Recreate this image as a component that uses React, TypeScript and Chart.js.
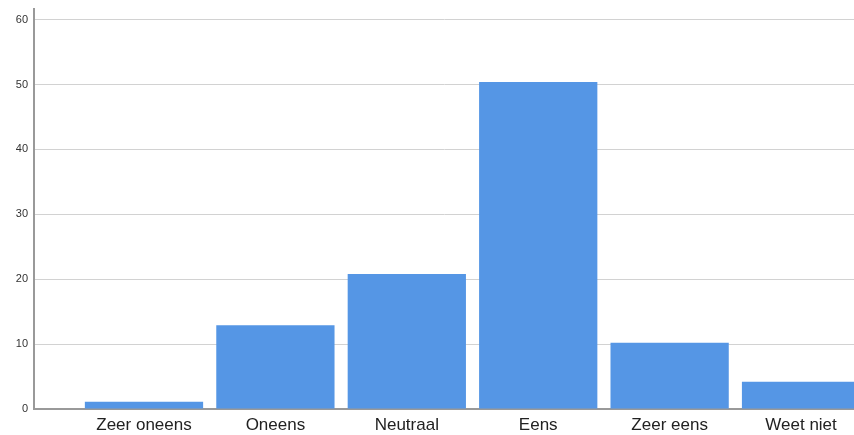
import React, { useEffect, useRef } from "react";
import { Chart, registerables } from "chart.js";

Chart.register(...registerables);

const categories = ["Zeer oneens", "Oneens", "Neutraal", "Eens", "Zeer eens", "Weet niet"];
const percentages = [1.1, 12.9, 20.8, 50.4, 10.2, 4.2];
const yTicks = [0, 10, 20, 30, 40, 50, 60];

export default function App() {
  const ref = useRef<HTMLCanvasElement | null>(null);

  useEffect(() => {
    if (!ref.current) return;
    const chart = new Chart(ref.current, {
      type: "bar",
      data: {
        datasets: [
          {
            data: percentages.map((v, i) => ({ x: i, y: v })),
            backgroundColor: "#5596e5",
            borderWidth: 0,
            barPercentage: 0.9,
            categoryPercentage: 1,
          },
        ],
      },
      options: {
        responsive: false,
        animation: false,
        layout: { padding: { top: 0, left: 0, right: 0, bottom: 0 } },
        plugins: { legend: { display: false }, tooltip: { enabled: false }, title: { display: false } },
        scales: {
          x: {
            type: "linear",
            offset: false,
            bounds: "ticks",
            min: -0.837,
            max: 5.403,
            afterBuildTicks: (axis: any) => {
              axis.ticks = categories.map((_, i) => ({ value: i }));
            },
            afterFit: (s: any) => {
              s.height = 26;
            },
            ticks: {
              callback: (v: any) => categories[v as number] ?? "",
              font: { family: "Liberation Sans", size: 17 },
              color: "#222",
              padding: 6,
              maxRotation: 0,
              autoSkip: false,
            },
            grid: { display: false, drawTicks: false },
            border: { color: "#999", width: 2 },
          },
          y: {
            min: 0,
            max: 61.7,
            afterBuildTicks: (axis: any) => {
              axis.ticks = yTicks.map((v) => ({ value: v }));
            },
            afterFit: (s: any) => {
              s.width = 34;
            },
            ticks: {
              font: { family: "Liberation Sans", size: 11 },
              color: "#333",
              padding: 6,
            },
            grid: { color: "#d2d2d2", lineWidth: 1, drawTicks: false },
            border: { color: "#999", width: 2 },
          },
        },
      },
    });
    return () => chart.destroy();
  }, []);

  return (
    <div style={{ position: "fixed", left: 0, top: 0, width: 854, height: 435, overflow: "hidden", background: "#fff" }}>
      <canvas
        ref={ref}
        width={854}
        height={439}
        style={{ position: "absolute", left: 0, top: -4, width: 854, height: 439 }}
      />
    </div>
  );
}
